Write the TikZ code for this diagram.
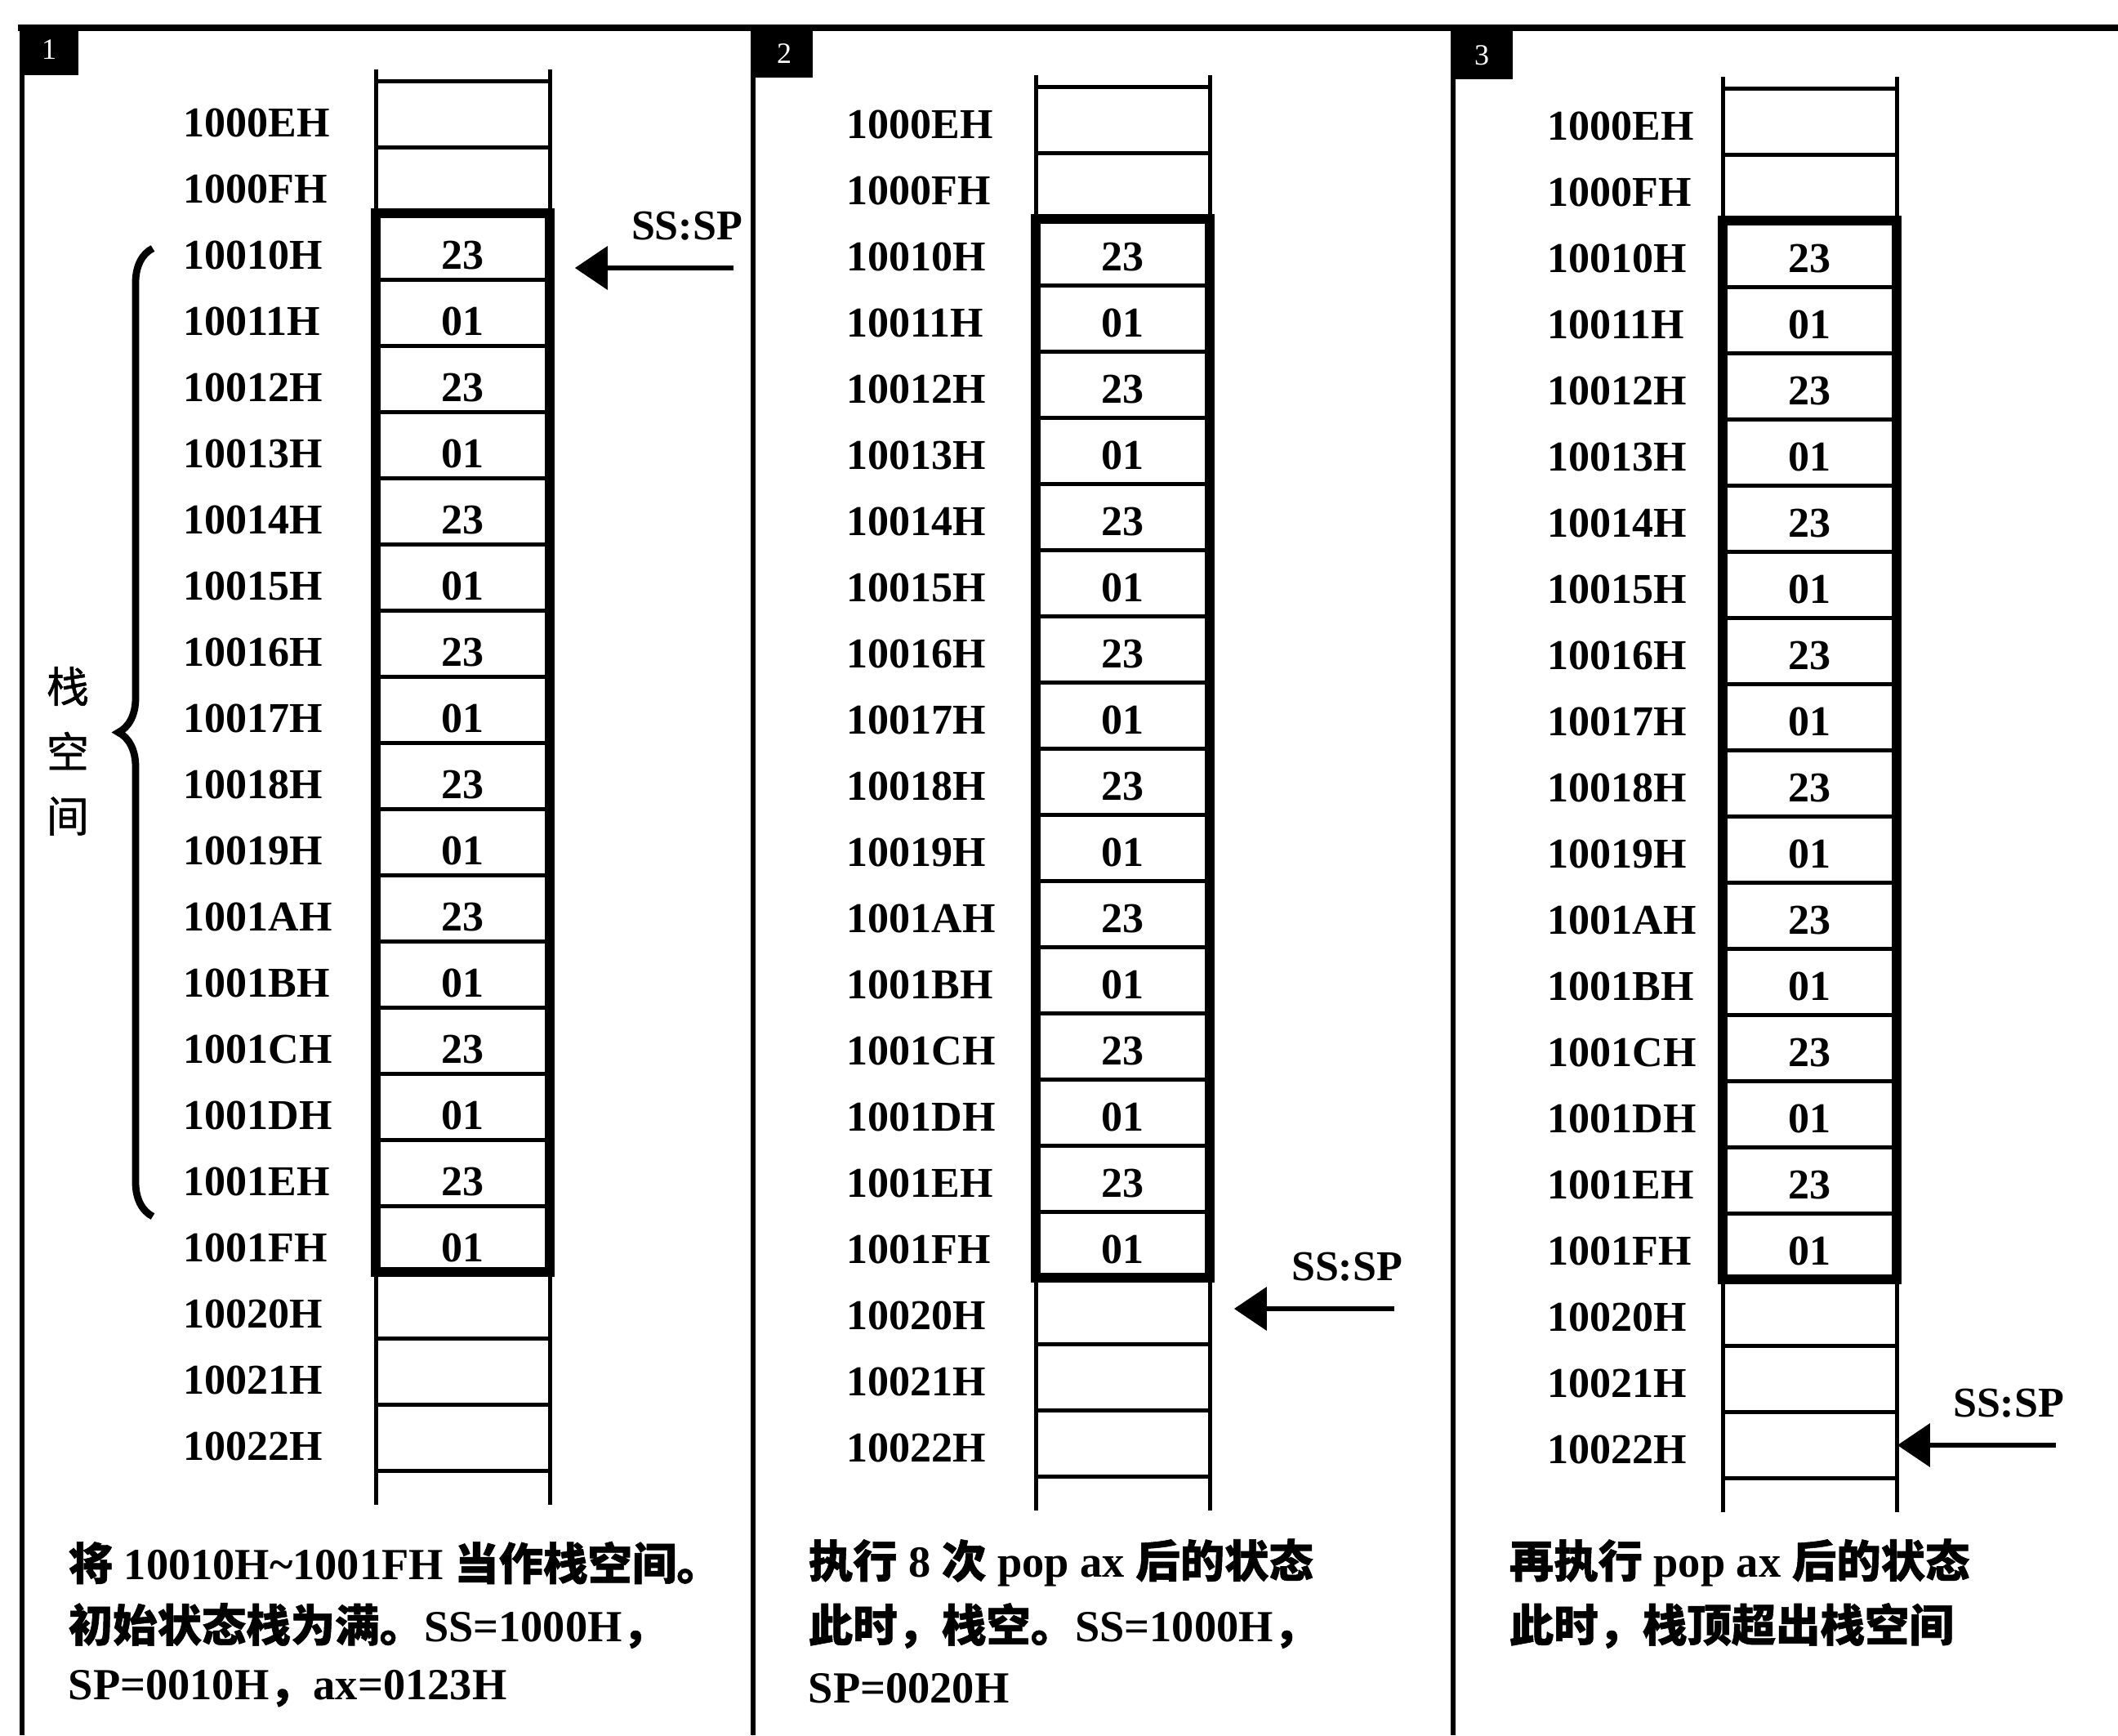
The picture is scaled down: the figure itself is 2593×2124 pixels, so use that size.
\documentclass[tikz,border=0pt]{standalone}
\usepackage{fontspec}
\setmainfont{Liberation Serif}
\newfontfamily\cjk[FakeBold=1]{Noto Sans CJK SC}
\usetikzlibrary{arrows.meta,decorations.pathreplacing}

\tikzset{
 thinln/.style={line width=1.25pt},
 thickln/.style={line width=2.8pt},
 frameln/.style={line width=1.4pt},
 topln/.style={line width=2pt},
 addr/.style={anchor=west, font=\fontsize{13}{15}\selectfont\bfseries, inner sep=0pt},
 val/.style={font=\fontsize{13}{15}\selectfont\bfseries, inner sep=0pt, minimum width=53.25pt, minimum height=20.25pt},
 ptr/.style={line width=1.7pt, -{Triangle[length=10pt,width=13pt]}},
 ptrlabel/.style={font=\fontsize{13}{15}\selectfont\bfseries, inner sep=0pt},
 note/.style={anchor=west, font=\fontsize{13.6}{16}\selectfont\bfseries, inner sep=0pt},
 numbox/.style={fill=black, draw=none},
 numtxt/.style={text=white, font=\fontsize{9}{9}\selectfont, inner sep=0pt},
 vtext/.style={font=\fontsize{13}{15}\selectfont\cjk, inner sep=0pt},
 bracestyle/.style={line width=2.2pt, decorate, decoration={brace, amplitude=10.5pt}},
}

% #1 id, #2 x0, #3 x1, #4 ytop, #5 label x, #6 text offset
\newcommand\stackcol[6]{%
 \pgfmathsetmacro\xc{(#2+#3)/2}%
 \foreach \k/\ad in {0/1000EH,1/1000FH,2/10010H,3/10011H,4/10012H,5/10013H,6/10014H,7/10015H,8/10016H,9/10017H,10/10018H,11/10019H,12/1001AH,13/1001BH,14/1001CH,15/1001DH,16/1001EH,17/1001FH,18/10020H,19/10021H,20/10022H}{%
   \pgfmathsetmacro\yc{#4+(\k+0.5)*81}%
   \pgfmathsetmacro\yb{#4+(\k+1)*81}%
   \node[addr] (#1a\k) at (#5,\yc+#6) {\ad};
   \ifnum\k<2 \def\v{}\else\ifnum\k>17 \def\v{}\else\ifodd\k\def\v{01}\else\def\v{23}\fi\fi\fi
   \node[val] (#1c\k) at (\xc,\yc+#6) {\v};
   \draw[thinln] (#2,\yb) -- (#3,\yb);
 }%
 \draw[thinln] (#2,#4) -- (#3,#4);
 \draw[thinln] (#2,#4-14) -- (#2,#4+21*81+42);
 \draw[thinln] (#3,#4-14) -- (#3,#4+21*81+42);
 \draw[thickln] (#2,#4+2*81) rectangle (#3,#4+18*81);
}

\begin{document}
\begin{tikzpicture}[x=0.25pt,y=-0.25pt]
\useasboundingbox (0,0) rectangle (2593,2124);

% frame
\draw[topln] (22,34) -- (2593,34);
\draw[frameln] (27,34) -- (27,2124);
\draw[frameln] (922,34) -- (922,2124);
\draw[frameln] (1779,34) -- (1779,2124);

% number boxes
\fill[numbox] (24,30) rectangle (96,92);
\node[numtxt] (n1) at (60,61) {1};
\fill[numbox] (924,36) rectangle (995,95);
\node[numtxt] (n2) at (960,66) {2};
\fill[numbox] (1776,38) rectangle (1852,97);
\node[numtxt] (n3) at (1814,68) {3};

% stacks
\stackcol{p1}{460}{673}{99}{224}{11}
\stackcol{p2}{1268}{1481}{106}{1036}{6}
\stackcol{p3}{2109}{2322}{108}{1894}{6}

% brace and label
\draw[bracestyle] (187,1489) -- (187,304);
\node[vtext] (z1) at (83,840) {栈};
\node[vtext] (z2) at (83,919) {空};
\node[vtext] (z3) at (83,999) {间};

% pointers
\node[ptrlabel] (p1sp) at (841,277) {SS:SP};
\coordinate (p1tail) at (898,328);
\draw[ptr, shorten >=7.5pt] (p1tail) -- (p1c2.east |- p1tail);

\node[ptrlabel] (p2sp) at (1649,1551) {SS:SP};
\coordinate (p2tail) at (1707,1602);
\draw[ptr, shorten >=7.25pt] (p2tail) -- (p2c18.east |- p2tail);

\node[ptrlabel] (p3sp) at (2459,1718) {SS:SP};
\coordinate (p3tail) at (2517,1769);
\draw[ptr] (p3tail) -- (p3c20.east |- p3tail);

% notes
\node[note] (t11) at (83,1913) {{\cjk 将} 10010H\textasciitilde1001FH {\cjk 当作栈空间。}};
\node[note] (t12) at (83,1990) {{\cjk 初始状态栈为满。}SS=1000H{\cjk ，}};
\node[note] (t13) at (83,2067) {SP=0010H{\cjk ，}ax=0123H};

\node[note] (t21) at (989,1913) {{\cjk 执行} 8 {\cjk 次} pop ax {\cjk 后的状态}};
\node[note] (t22) at (989,1990) {{\cjk 此时，栈空。}SS=1000H{\cjk ，}};
\node[note] (t23) at (989,2067) {SP=0020H};

\node[note] (t31) at (1847,1913) {{\cjk 再执行} pop ax {\cjk 后的状态}};
\node[note] (t32) at (1847,1990) {{\cjk 此时，栈顶超出栈空间}};
\end{tikzpicture}
\end{document}
